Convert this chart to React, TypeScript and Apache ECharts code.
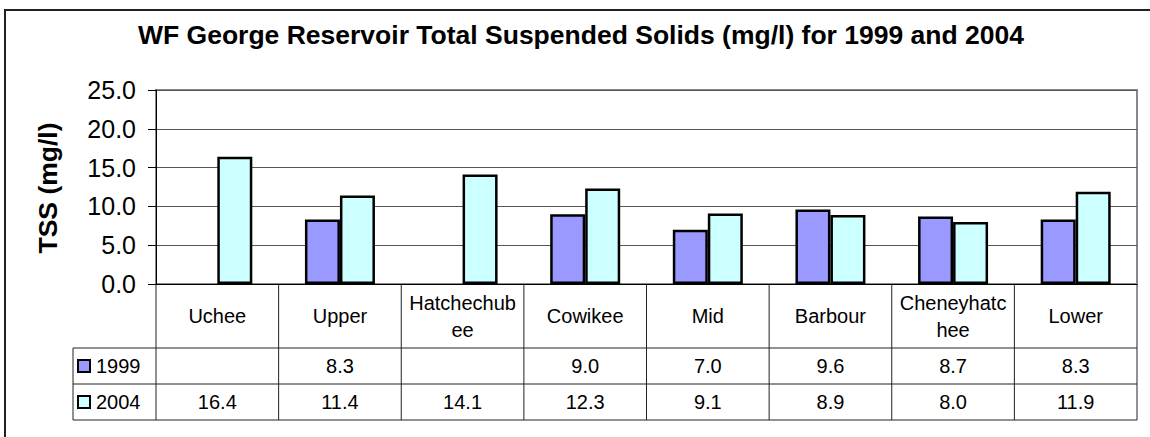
import React, { useEffect, useRef } from "react";
import * as echarts from "echarts";

const categories = ["Uchee", "Upper", "Hatchechubee", "Cowikee", "Mid", "Barbour", "Cheneyhatchee", "Lower"];
const series1999: (number | null)[] = [null, 8.3, null, 9.0, 7.0, 9.6, 8.7, 8.3];
const series2004: (number | null)[] = [16.4, 11.4, 14.1, 12.3, 9.1, 8.9, 8.0, 11.9];
const seriesNames = ["1999", "2004"];
const seriesColors = ["#9999FF", "#CCFFFF"];
const titleText = "WF George Reservoir Total Suspended Solids (mg/l) for 1999 and 2004";
const yAxisTitle = "TSS (mg/l)";

const FONT = 'Arial, "Liberation Sans", sans-serif';

export default function App() {
  const ref = useRef<HTMLDivElement>(null);
  useEffect(() => {
    if (!ref.current) return;
    const chart = echarts.init(ref.current, null, { renderer: "svg" });
    const gLeft = 156, gTop = 90, gWidth = 981, gHeight = 194;
    const gBottom = gTop + gHeight;
    const catRowH = 64, dataRowH = 36;
    const legLeft = 73;
    const colW = gWidth / categories.length;
    const rowsData = [series1999, series2004];

    const graphics: any[] = [];
    // outer chart border (cropped)
    graphics.push({
      type: "rect", shape: { x: 5, y: 10, width: 1300, height: 600 },
      style: { fill: "none", stroke: "#222", lineWidth: 2 }, z: 0, silent: true,
    });
    graphics.push({
      type: "text", x: 581, y: 35,
      style: { text: titleText, font: `bold 26.5px ${FONT}`, fill: "#000", align: "center", verticalAlign: "middle" },
    });
    graphics.push({
      type: "text", x: 48, y: 188, rotation: Math.PI / 2,
      style: { text: yAxisTitle, font: `bold 26.5px ${FONT}`, fill: "#000", align: "center", verticalAlign: "middle" },
    });
    const lineStyle = { stroke: "#222", lineWidth: 1 };
    const tableBottom = gBottom + catRowH + dataRowH * 2;
    // horizontal lines
    [gBottom + catRowH, gBottom + catRowH + dataRowH, tableBottom].forEach((y) => {
      graphics.push({ type: "line", shape: { x1: legLeft, y1: y, x2: gLeft + gWidth, y2: y }, style: lineStyle });
    });
    // vertical lines
    for (let i = 0; i <= categories.length; i++) {
      const x = gLeft + colW * i;
      graphics.push({ type: "line", shape: { x1: x, y1: gBottom, x2: x, y2: tableBottom }, style: lineStyle });
    }
    graphics.push({ type: "line", shape: { x1: legLeft, y1: gBottom + catRowH, x2: legLeft, y2: tableBottom }, style: lineStyle });
    // category labels
    categories.forEach((c, i) => {
      graphics.push({
        type: "text", x: gLeft + colW * (i + 0.5), y: gBottom + catRowH / 2,
        style: {
          text: c, font: `20px ${FONT}`, fill: "#000", align: "center", verticalAlign: "middle",
          width: 112, overflow: "breakAll", lineHeight: 27,
        },
      });
    });
    // data rows
    rowsData.forEach((row, r) => {
      const cy = gBottom + catRowH + dataRowH * (r + 0.5);
      graphics.push({
        type: "rect", shape: { x: 78, y: cy - 6, width: 12, height: 12 },
        style: { fill: seriesColors[r], stroke: "#000", lineWidth: 2 },
      });
      graphics.push({
        type: "text", x: 96, y: cy,
        style: { text: seriesNames[r], font: `20px ${FONT}`, fill: "#000", align: "left", verticalAlign: "middle" },
      });
      row.forEach((v, i) => {
        if (v === null) return;
        graphics.push({
          type: "text", x: gLeft + colW * (i + 0.5), y: cy,
          style: { text: v.toFixed(1), font: `20px ${FONT}`, fill: "#000", align: "center", verticalAlign: "middle" },
        });
      });
    });

    chart.setOption({
      animation: false,
      backgroundColor: "#fff",
      grid: { left: gLeft, top: gTop, width: gWidth, height: gHeight, show: true, borderColor: "#888", borderWidth: 2, backgroundColor: "transparent" },
      xAxis: {
        type: "category", data: categories,
        axisLine: { show: true, lineStyle: { color: "#000", width: 1 } },
        axisTick: { show: false }, axisLabel: { show: false },
      },
      yAxis: {
        type: "value", min: 0, max: 25, interval: 5,
        axisLine: { show: true, lineStyle: { color: "#000", width: 1 } },
        axisTick: { show: true, length: 8, lineStyle: { color: "#000" } },
        axisLabel: { fontSize: 25, fontFamily: FONT, color: "#000", margin: 20, formatter: (v: number) => v.toFixed(1) },
        splitLine: { show: true, lineStyle: { color: "#555", width: 1 } },
      },
      series: [
        {
          name: seriesNames[0], type: "bar", data: series1999, barWidth: 35, barGap: "0%",
          itemStyle: { color: seriesColors[0], borderColor: "#000", borderWidth: 2.5 },
        },
        {
          name: seriesNames[1], type: "bar", data: series2004, barWidth: 35, barGap: "0%",
          itemStyle: { color: seriesColors[1], borderColor: "#000", borderWidth: 2.5 },
        },
      ],
      graphic: graphics,
    });
    return () => chart.dispose();
  }, []);
  return <div ref={ref} style={{ position: "absolute", left: 0, top: 0, width: 1150, height: 437 }} />;
}
